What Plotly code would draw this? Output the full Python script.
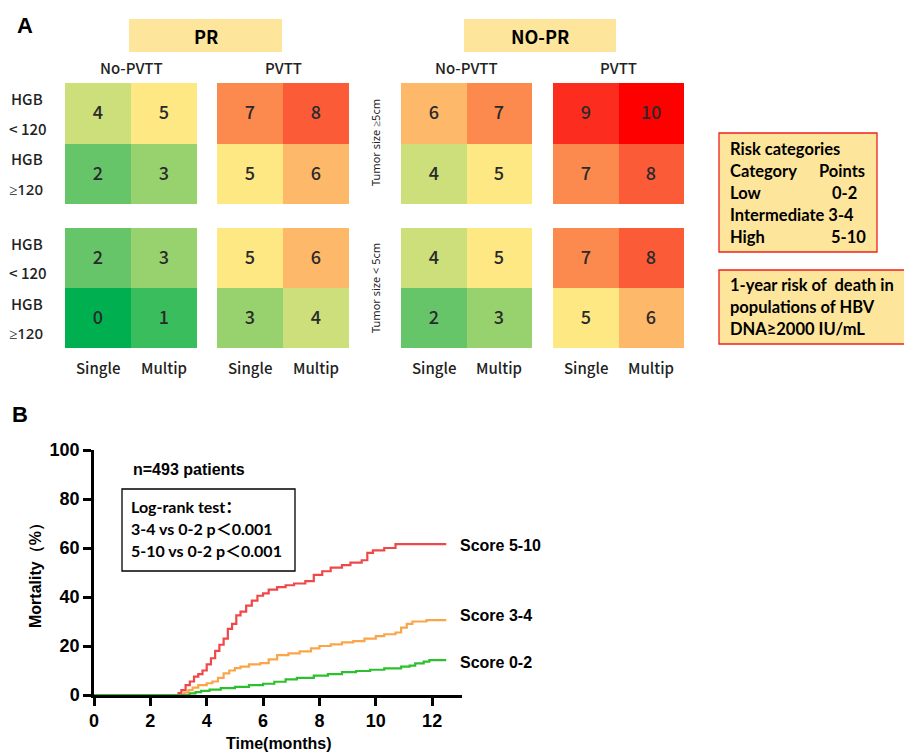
import plotly.graph_objects as go

# ---------------- DATA ----------------
col_labels = ["Single", "Multip"]
row_labels = ["HGB<120", "HGB≥120"]
group_labels = ["PR", "NO-PR"]
pvtt_labels = ["No-PVTT", "PVTT", "No-PVTT", "PVTT"]

# scores, rows: HGB<120, HGB>=120 ; cols: Single, Multip
pr_nopvtt_large = [[4, 5], [2, 3]]
pr_pvtt_large = [[7, 8], [5, 6]]
nopr_nopvtt_large = [[6, 7], [4, 5]]
nopr_pvtt_large = [[9, 10], [7, 8]]
pr_nopvtt_small = [[2, 3], [0, 1]]
pr_pvtt_small = [[5, 6], [3, 4]]
nopr_nopvtt_small = [[4, 5], [2, 3]]
nopr_pvtt_small = [[7, 8], [5, 6]]

# Kaplan-Meier cumulative mortality (%)
red_t = [0, 3.0, 3.1, 3.25, 3.4, 3.55, 3.7, 3.85, 4.0, 4.15, 4.3, 4.45, 4.6, 4.75, 4.9, 5.05, 5.2, 5.4,
         5.6, 5.8, 6.0, 6.2, 6.5, 6.8, 7.1, 7.5, 7.8, 8.1, 8.4, 8.8, 9.1, 9.5, 9.7, 9.9, 10.3, 10.7, 12.5]
red_y = [0, 0.8, 2, 4, 5.5, 7.5, 8.5, 10, 12.5, 15, 18, 20.5, 23, 27, 29, 32.5, 34, 36.5,
         38.5, 40.5, 41.5, 43, 44, 44.8, 45.5, 46.5, 49, 50.5, 52, 53, 54, 55, 58, 59, 60, 61.6, 61.6]
org_t = [0, 3.2, 3.35, 3.5, 3.7, 4.0, 4.2, 4.4, 4.6, 4.8, 5.0, 5.2, 5.5, 5.9, 6.2, 6.5, 6.9, 7.3, 7.7,
         8.0, 8.4, 8.8, 9.2, 9.6, 10.0, 10.3, 10.7, 10.9, 11.1, 11.3, 11.8, 12.5]
org_y = [0, 1, 2, 3, 4, 4.8, 5.5, 7, 8.8, 10, 11, 11.6, 12.5, 13, 14.5, 16.3, 17, 17.8, 19,
         20, 20.7, 21.5, 22, 23, 24, 24.8, 25.5, 27.5, 29, 30, 30.6, 30.6]
grn_t = [0, 3.4, 3.6, 3.8, 4.1, 4.5, 5.0, 5.5, 6.0, 6.4, 6.8, 7.2, 7.8, 8.3, 8.8, 9.3, 9.8, 10.3,
         10.9, 11.2, 11.4, 11.7, 11.9, 12.5]
grn_y = [0, 0.7, 1.2, 1.7, 2.2, 2.8, 3.3, 4.0, 4.6, 5.4, 6.4, 7.0, 7.9, 8.5, 9.3, 9.8, 10.3, 10.9,
         11.6, 12.0, 12.9, 13.6, 14.2, 14.2]
curve_labels = ["Score 5-10", "Score 3-4", "Score 0-2"]
x_ticks = [0, 2, 4, 6, 8, 10, 12]
y_ticks = [0, 20, 40, 60, 80, 100]

# ---------------- LAYOUT HELPERS ----------------
W, H = 904, 754
def fx(px):
    return px / W
def fy(py):
    return 1 - py / H

colorscale = [
    [0.0, "#00B050"], [0.1, "#3ABD5C"], [0.2, "#67C569"], [0.3, "#98D26F"],
    [0.4, "#CCDF7B"], [0.5, "#FDE884"], [0.6, "#FDB86A"], [0.7, "#FC8A4E"],
    [0.8, "#FC5B38"], [0.9, "#FC2D1E"], [1.0, "#FF0000"],
]

blocks_x = [(65, 197), (217, 349), (401, 532), (553, 684)]
rows_y = [(83, 204), (228, 348)]
mats = [
    [pr_nopvtt_large, pr_pvtt_large, nopr_nopvtt_large, nopr_pvtt_large],
    [pr_nopvtt_small, pr_pvtt_small, nopr_nopvtt_small, nopr_pvtt_small],
]

LF = "Noto Sans CJK SC"

fig = go.Figure()
layout = {}
k = 0
for r, (y0, y1) in enumerate(rows_y):
    for c, (x0, x1) in enumerate(blocks_x):
        k += 1
        sx = "" if k == 1 else str(k)
        fig.add_trace(go.Heatmap(
            z=mats[r][c], x=col_labels, y=row_labels,
            zmin=0, zmax=10, colorscale=colorscale, showscale=False,
            text=mats[r][c], texttemplate="%{text}",
            textfont=dict(size=18, color="#2a2a2a", family=LF, weight=500),
            xaxis="x" + sx, yaxis="y" + sx, hoverinfo="skip", xgap=0, ygap=0,
        ))
        layout["xaxis" + sx] = dict(domain=[fx(x0), fx(x1)], anchor="y" + sx, visible=False,
                                    fixedrange=True, automargin=False)
        layout["yaxis" + sx] = dict(domain=[fy(y1), fy(y0)], anchor="x" + sx, visible=False,
                                    autorange="reversed", fixedrange=True, automargin=False)

# KM panel
fig.add_trace(go.Scatter(x=red_t, y=red_y, mode="lines", line=dict(color="#F04848", width=2.2, shape="hv"),
                         xaxis="x9", yaxis="y9", showlegend=False, hoverinfo="skip"))
fig.add_trace(go.Scatter(x=org_t, y=org_y, mode="lines", line=dict(color="#FBA54A", width=2.2, shape="hv"),
                         xaxis="x9", yaxis="y9", showlegend=False, hoverinfo="skip"))
fig.add_trace(go.Scatter(x=grn_t, y=grn_y, mode="lines", line=dict(color="#2DC02D", width=2.2, shape="hv"),
                         xaxis="x9", yaxis="y9", showlegend=False, hoverinfo="skip"))

tf = dict(family="Liberation Sans", size=18, color="black", weight="bold")
layout["xaxis9"] = dict(domain=[fx(94), fx(462)], anchor="y9", range=[0, 13.06], tickvals=x_ticks,
                        showline=True, linecolor="black", linewidth=2.5, ticks="outside", ticklen=8,
                        tickwidth=2.5, tickcolor="black", showgrid=False, zeroline=False,
                        tickfont=tf, automargin=False, fixedrange=True)
layout["yaxis9"] = dict(domain=[fy(695), fy(450)], anchor="x9", range=[0, 100], tickvals=y_ticks,
                        showline=True, linecolor="black", linewidth=2.5, ticks="outside", ticklen=8,
                        tickwidth=2.5, tickcolor="black", showgrid=False, zeroline=False,
                        tickfont=tf, automargin=False, fixedrange=True)

ann = []
shapes = []
def A(x, y, text, size=14, bold=False, family=LF, xanchor="center", angle=0, color="black", weight=None):
    w = weight if weight is not None else ("bold" if bold else "normal")
    ann.append(dict(x=fx(x), y=fy(y), xref="paper", yref="paper", text=text, showarrow=False,
                    xanchor=xanchor, yanchor="middle", textangle=angle,
                    font=dict(size=size, family=family, color=color, weight=w)))

# panel letters
A(25, 26, "A", size=22, bold=True, family="Liberation Sans")
A(20, 414, "B", size=22, bold=True, family="Liberation Sans")

# group header boxes
for (bx0, bx1), lab in zip([(129, 282), (464, 616)], group_labels):
    shapes.append(dict(type="rect", xref="paper", yref="paper", x0=fx(bx0), x1=fx(bx1), y0=fy(52), y1=fy(19),
                       fillcolor="#FDE59B", line=dict(width=0), layer="below"))
    A((bx0 + bx1) / 2, 36, lab, size=18, bold=True)

for (x0, x1), lab in zip(blocks_x, pvtt_labels):
    A((x0 + x1) / 2, 67, lab, size=15, color="#222", weight=500)
    A(x0 + (x1 - x0) / 4, 367, col_labels[0], size=15, color="#222", weight=500)
    A(x0 + 3 * (x1 - x0) / 4, 367, col_labels[1], size=15, color="#222", weight=500)

for (y0, y1) in rows_y:
    h = (y1 - y0) / 4
    A(9, y0 + h * 0.5, "HGB", size=15, xanchor="left", color="#222", weight=500)
    A(7, y0 + h * 1.5, "< 120", size=15, xanchor="left", color="#222", weight=500)
    A(9, y0 + h * 2.5, "HGB", size=15, xanchor="left", color="#222", weight=500)
    A(7, y0 + h * 3.5, "≥120", size=15, family="Noto Sans", xanchor="left", color="#222", weight=500)

A(375, 143, "Tumor size ≥5cm", size=11, family="Noto Sans", angle=-90, color="#222")
A(375, 288, "Tumor size < 5cm", size=11, family="Noto Sans", angle=-90, color="#222")

# risk boxes
shapes.append(dict(type="rect", xref="paper", yref="paper", x0=fx(719), x1=fx(877), y0=fy(252), y1=fy(133),
                   fillcolor="#FDE59B", line=dict(color="#F02020", width=1.3)))
shapes.append(dict(type="rect", xref="paper", yref="paper", x0=fx(719), x1=fx(910), y0=fy(344), y1=fy(270),
                   fillcolor="#FDE59B", line=dict(color="#F02020", width=1.3)))
rf = "Lato, Noto Sans CJK SC"
rs = 16.5
A(728, 149, "Risk categories", size=rs, bold=True, family=rf, xanchor="left")
A(728, 171, "Category", size=rs, bold=True, family=rf, xanchor="left")
A(817, 171, "Points", size=rs, bold=True, family=rf, xanchor="left")
A(728, 193, "Low", size=rs, bold=True, family=rf, xanchor="left")
A(830, 193, "0-2", size=rs, bold=True, family=rf, xanchor="left")
A(728, 215, "Intermediate 3-4", size=rs, bold=True, family=rf, xanchor="left")
A(728, 237, "High", size=rs, bold=True, family=rf, xanchor="left")
A(829, 237, "5-10", size=rs, bold=True, family=rf, xanchor="left")
A(728, 285, "1-year risk of  death in", size=rs, bold=True, family=rf, xanchor="left")
A(728, 307, "populations of HBV", size=rs, bold=True, family=rf, xanchor="left")
A(728, 329, "DNA≥2000 IU/mL", size=rs, bold=True, family=rf, xanchor="left")

# panel B annotations
A(131, 469, "n=493 patients", size=16, bold=True, family="Liberation Sans", xanchor="left")
shapes.append(dict(type="rect", xref="paper", yref="paper", x0=fx(122), x1=fx(295), y0=fy(571), y1=fy(489),
                   fillcolor="white", line=dict(color="black", width=1.3)))
A(129, 506, "Log-rank test：", size=16, bold=True, family=rf, xanchor="left")
A(129, 528, "3-4 vs 0-2 p＜0.001", size=16, bold=True, family=rf, xanchor="left")
A(129, 550, "5-10 vs 0-2 p＜0.001", size=16, bold=True, family=rf, xanchor="left")

for lab, yy in zip(curve_labels, [545, 615, 662]):
    A(458, yy, lab, size=16, bold=True, family="Liberation Sans", xanchor="left")

A(36, 572, "Mortality（%）", size=16, bold=True, family="Liberation Sans", angle=-90)
A(278, 743, "Time(months)", size=16, bold=True, family="Liberation Sans")

fig.update_layout(width=W, height=H, margin=dict(l=0, r=0, t=0, b=0, autoexpand=False),
                  paper_bgcolor="white", plot_bgcolor="white", showlegend=False,
                  annotations=ann, shapes=shapes, **layout)
fig.write_html("out.html", config={"displayModeBar": False},
               post_script="document.body.style.margin='0';document.body.style.padding='0';")
